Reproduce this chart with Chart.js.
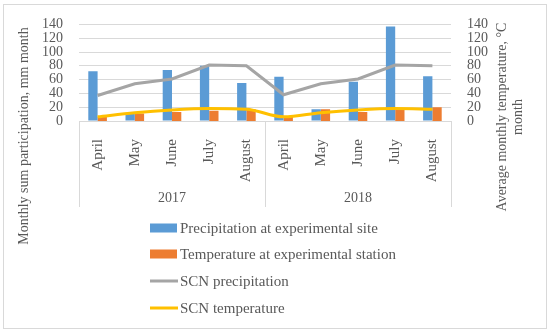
<!DOCTYPE html>
<html>
<head>
<meta charset="utf-8">
<script src="https://cdn.jsdelivr.net/npm/chart.js@4"></script>
<style>
  html, body { margin: 0; padding: 0; background: #fff; }
  #wrap { width: 550px; height: 334px; position: relative; }
</style>
</head>
<body>
<div id="wrap"><canvas id="chart"></canvas></div>
<script>
// Data
const months = ['April', 'May', 'June', 'July', 'August', 'April', 'May', 'June', 'July', 'August'];
const years = ['2017', '2018'];
const precipSite = [72, 11, 74, 80, 55, 64, 17, 57, 137, 65];
const tempStation = [6, 11, 13, 15, 17, 7, 17, 13, 17, 20];
const scnPrecip = [37, 54, 61, 81, 80, 38, 54, 61, 81, 80];
const scnTemp = [6, 12, 16, 18, 17, 6, 12, 16, 18, 17];
const yTicks = [0, 20, 40, 60, 80, 100, 120, 140];

const FONT = '"Liberation Serif", serif';
const TEXT = '#595959';
const GRID = '#d9d9d9';

// Axis titles, year row, frame lines and legend
const extras = {
    id: 'extras',
    afterDraw(chart) {
        const ctx = chart.ctx;
        const x = chart.scales.x;
        const area = chart.chartArea;
        ctx.save();

        // outer border
        ctx.strokeStyle = GRID;
        ctx.lineWidth = 1;
        ctx.strokeRect(3.5, 4.5, 543, 324);

        // year dividers
        const mid = (x.getPixelForValue(4) + x.getPixelForValue(5)) / 2;
        const bottom = 207;
        ctx.beginPath();
        [x.left, mid, x.right].forEach(px => {
            const p = Math.round(px) + 0.5;
            ctx.moveTo(p, area.bottom);
            ctx.lineTo(p, bottom);
        });
        ctx.stroke();

        // year labels
        ctx.fillStyle = TEXT;
        ctx.font = '14px ' + FONT;
        ctx.textAlign = 'center';
        ctx.textBaseline = 'middle';
        ctx.fillText(years[0], (x.left + mid) / 2, 198);
        ctx.fillText(years[1], (mid + x.right) / 2, 198);

        // axis titles
        ctx.font = '14px ' + FONT;
        ctx.save();
        ctx.translate(24, 136);
        ctx.rotate(-Math.PI / 2);
        ctx.fillText('Monthly sum participation, mm month', 0, 0);
        ctx.restore();
        ctx.save();
        ctx.translate(510, 117);
        ctx.rotate(-Math.PI / 2);
        ctx.fillText('Average monthly temperature, \u00b0C', 0, -8);
        ctx.fillText('month', 0, 8);
        ctx.restore();

        // legend
        const rows = [228, 254, 281, 308];
        ctx.textAlign = 'left';
        ctx.font = '15px ' + FONT;
        chart.data.datasets.forEach((ds, i) => {
            const y = rows[i];
            if (ds.type === 'line') {
                ctx.strokeStyle = ds.borderColor;
                ctx.lineWidth = 3;
                ctx.beginPath();
                ctx.moveTo(150, y);
                ctx.lineTo(178, y);
                ctx.stroke();
            } else {
                ctx.fillStyle = ds.backgroundColor;
                ctx.fillRect(150, y - 4.5, 27, 9);
            }
            ctx.fillStyle = TEXT;
            ctx.fillText(ds.label, 180, y + 1);
        });
        ctx.restore();
    }
};

const yTickOpts = { color: TEXT, font: { family: FONT, size: 14 }, padding: 16, autoSkip: false };

new Chart(document.getElementById('chart'), {
    data: {
        labels: months,
        datasets: [
            {
                type: 'bar',
                label: 'Precipitation at experimental site',
                data: precipSite,
                backgroundColor: '#5b9bd5',
                yAxisID: 'y',
                order: 2,
                categoryPercentage: 0.5,
                barPercentage: 1
            },
            {
                type: 'bar',
                label: 'Temperature at experimental station',
                data: tempStation,
                backgroundColor: '#ed7d31',
                yAxisID: 'y1',
                order: 2,
                categoryPercentage: 0.5,
                barPercentage: 1
            },
            {
                type: 'line',
                label: 'SCN precipitation',
                data: scnPrecip,
                borderColor: '#a5a5a5',
                borderWidth: 3,
                pointRadius: 0,
                tension: 0,
                yAxisID: 'y',
                order: 1
            },
            {
                type: 'line',
                label: 'SCN temperature',
                data: scnTemp,
                borderColor: '#ffc000',
                borderWidth: 3,
                pointRadius: 0,
                cubicInterpolationMode: 'monotone',
                yAxisID: 'y1',
                order: 0
            }
        ]
    },
    options: {
        responsive: true,
        maintainAspectRatio: false,
        animation: false,
        layout: { padding: { top: 20, bottom: 127, left: 0, right: 0 } },
        plugins: {
            legend: { display: false },
            tooltip: { enabled: false }
        },
        scales: {
            x: {
                grid: { display: false },
                border: { display: false },
                ticks: {
                    color: TEXT,
                    font: { family: FONT, size: 15 },
                    minRotation: 90,
                    maxRotation: 90,
                    autoSkip: false,
                    padding: 10
                },
                afterFit: s => { s.height = 86; }
            },
            y: {
                position: 'left',
                min: 0,
                max: 140,
                afterBuildTicks: s => { s.ticks = yTicks.map(v => ({ value: v })); },
                grid: { color: GRID, drawTicks: false },
                border: { display: false },
                ticks: yTickOpts,
                afterFit: s => { s.width = 79; }
            },
            y1: {
                position: 'right',
                min: 0,
                max: 140,
                afterBuildTicks: s => { s.ticks = yTicks.map(v => ({ value: v })); },
                grid: { display: false, drawTicks: false },
                border: { display: false },
                ticks: yTickOpts,
                afterFit: s => { s.width = 99; }
            }
        }
    },
    plugins: [extras]
});
</script>
</body>
</html>
